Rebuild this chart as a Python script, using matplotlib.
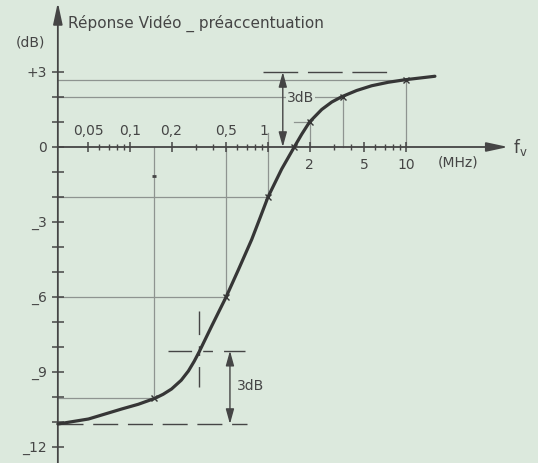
import numpy as np
import matplotlib.pyplot as plt

# courbe de réponse (fréquence en MHz, gain en dB)
freq_mhz = [0.03, 0.05, 0.087, 0.115, 0.152, 0.174, 0.20, 0.235, 0.265, 0.292, 0.318,
            0.391, 0.496, 0.609, 0.762, 0.875, 1.0, 1.257, 1.55, 1.755, 2.0,
            2.45, 2.9, 3.42, 4.39, 5.64, 7.45, 9.84, 16.2]
gain_db = [-11.08, -10.88, -10.48, -10.29, -10.05, -9.89, -9.68, -9.33, -8.96, -8.57, -8.18,
           -7.16, -6.01, -4.92, -3.7, -2.84, -2.0, -0.88, 0.0, 0.51, 1.0,
           1.5, 1.8, 2.01, 2.26, 2.45, 2.59, 2.69, 2.83]

# points repérés sur la courbe
mark_f = [0.15, 0.5, 1.0, 1.55, 2.0, 3.5, 10.0]
mark_db = [-10.05, -6.0, -2.0, 0.0, 1.0, 2.0, 2.7]

y_ticks = list(range(-12, 4))
y_labels = {3: '+3', 0: '0', -3: '_3', -6: '_6', -9: '_9', -12: '_12'}
x_major = [0.05, 0.1, 0.2, 0.5, 1, 2, 5, 10]
x_minor = [0.06, 0.07, 0.08, 0.09, 0.3, 0.4, 0.6, 0.7, 0.8, 0.9, 3, 4, 6, 7, 8, 9]
x_labels_top = {0.05: '0,05', 0.1: '0,1', 0.2: '0,2', 0.5: '0,5', 1: '1'}
x_labels_bottom = {2: '2', 5: '5', 10: '10'}

high_db = 3.0
low_db = -11.08
knee_f, knee_db = 0.318, -8.15

bg = '#dce9dd'
ink = '#454545'
thin = '#8e9490'

fig = plt.figure(figsize=(5.38, 4.64), dpi=100)
fig.patch.set_facecolor(bg)
ax = fig.add_axes([0, 0, 1, 1])
ax.set_facecolor(bg)
ax.set_xscale('log')
ax.set_xlim(10 ** (-268 / 138), 10 ** (270 / 138))
ax.set_ylim((148 - 464) / 25, 148 / 25)
ax.axis('off')

x0 = 0.03  # axe des ordonnées
x_end = 55.0
y_bot, y_top = -12.7, 5.78

## axes
ax.annotate('', xy=(x0, y_top), xytext=(x0, y_bot),
            arrowprops=dict(arrowstyle='-|>,head_length=1.3,head_width=0.28',
                            color=ink, lw=1.3, shrinkA=0, shrinkB=0))
ax.annotate('', xy=(x_end, 0), xytext=(x0, 0),
            arrowprops=dict(arrowstyle='-|>,head_length=1.3,head_width=0.28',
                            color=ink, lw=1.3, shrinkA=0, shrinkB=0))

ax.plot([x0] * len(y_ticks), y_ticks, ls='none', marker='_', ms=8.5, mew=1.1, color=ink)
ax.plot(x_major, [0] * len(x_major), ls='none', marker='|', ms=6.5, mew=1.1, color=ink)
ax.plot(x_minor, [0] * len(x_minor), ls='none', marker='|', ms=4.3, mew=1.0, color=ink)

for v, s in y_labels.items():
    ax.annotate(s, xy=(x0, v), xytext=(-8, 0), textcoords='offset points',
                ha='right', va='center', fontsize=10, color=ink)
for v, s in x_labels_top.items():
    dx = -3 if v == 1 else 0
    ax.annotate(s, xy=(v, 0), xytext=(dx, 12), textcoords='offset points',
                ha='center', va='center', fontsize=10, color=ink)
for v, s in x_labels_bottom.items():
    ax.annotate(s, xy=(v, 0), xytext=(0, -12), textcoords='offset points',
                ha='center', va='center', fontsize=10, color=ink)

ax.text(30 / 538, 1 - 43 / 464, '(dB)', transform=ax.transAxes,
        ha='center', va='center', fontsize=10, color=ink)
ax.text(68 / 538, 1 - 23 / 464, 'Réponse Vidéo _ préaccentuation', transform=ax.transAxes,
        ha='left', va='center', fontsize=11, color=ink)
ax.text(458 / 538, 1 - 163 / 464, '(MHz)', transform=ax.transAxes,
        ha='center', va='center', fontsize=10, color=ink)
ax.text(520 / 538, 1 - 148 / 464, r'$\mathregular{f_v}$', transform=ax.transAxes,
        ha='center', va='center', fontsize=12, color=ink)

## lignes de rappel
for f, g in zip(mark_f, mark_db):
    if g == 0:
        continue
    start = 1.55 if f == 2.0 else x0
    ax.plot([start, f], [g, g], color=thin, lw=0.9, zorder=1)
    top = 0.55 if f == 1.0 else 0
    ax.plot([f, f], [g, top], color=thin, lw=0.9, zorder=1)
ax.plot([0.15], [-1.15], marker='_', ms=3, mew=2, color=ink)

## asymptotes et repère à -3 dB
ax.plot([0.92, 7.5], [high_db, high_db], color=ink, lw=1.0, dashes=(25, 7))
ax.plot([x0, 0.71], [low_db, low_db], color=ink, lw=1.0, dashes=(18, 7))
ax.plot([0.188, 0.68], [knee_db, knee_db], color=ink, lw=1.0, dashes=(17, 8, 7, 8))
ax.plot([knee_f, knee_f], [-6.56, -9.6], color=ink, lw=1.0, dashes=(17, 8, 7, 8))

dim = dict(arrowstyle='<|-|>,head_length=0.9,head_width=0.25', color=ink, lw=1.0,
           shrinkA=0, shrinkB=0)
ax.annotate('', xy=(1.28, high_db), xytext=(1.28, 0), arrowprops=dim)
ax.annotate('', xy=(0.53, knee_db), xytext=(0.53, low_db), arrowprops=dim)
ax.text(1.37, 2.0, '3dB', ha='left', va='center', fontsize=10, color=ink,
        bbox=dict(facecolor=bg, edgecolor='none', pad=0.5))
ax.text(0.596, -9.5, '3dB', ha='left', va='center', fontsize=10, color=ink)

## courbe
ax.plot(freq_mhz, gain_db, color='#363636', lw=2.3, solid_capstyle='round',
        solid_joinstyle='round', zorder=3)
ax.plot(mark_f, mark_db, ls='none', marker='x', ms=4, mew=1.0, color='#363636', zorder=4)

fig.savefig('out.png', dpi=100, facecolor=bg)
